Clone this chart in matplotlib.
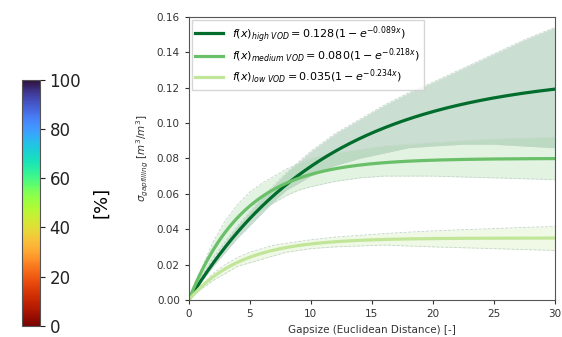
import matplotlib
matplotlib.use('Agg')
import matplotlib.pyplot as plt
import numpy as np

# Fit parameters f(x) = a(1 - exp(-b x))
labels = ['high VOD', 'medium VOD', 'low VOD']
a_fit = [0.128, 0.080, 0.035]
b_fit = [0.089, 0.218, 0.234]
colors = ['#006d2c', '#6abf69', '#c2e699']
band_colors = ['#2e7d4f', '#8fd08f', '#d4eeb8']
band_alpha = [0.25, 0.25, 0.35]

# Uncertainty band edges
band_x = [0, 1, 2, 3, 4, 5, 6, 7, 8, 9, 10, 12, 14, 16, 18, 20, 22.5, 25, 27.5, 30]
high_upper = [0, 0.012, 0.023, 0.033, 0.042, 0.050, 0.058, 0.065, 0.072, 0.078, 0.084,
	0.094, 0.102, 0.110, 0.117, 0.123, 0.131, 0.139, 0.147, 0.154]
high_lower = [0, 0.010, 0.019, 0.027, 0.035, 0.042, 0.049, 0.056, 0.062, 0.066, 0.070,
	0.076, 0.080, 0.083, 0.086, 0.087, 0.088, 0.088, 0.087, 0.086]
med_upper = [0, 0.017, 0.033, 0.045, 0.054, 0.061, 0.066, 0.070, 0.074, 0.077, 0.080,
	0.083, 0.085, 0.087, 0.088, 0.089, 0.090, 0.091, 0.0915, 0.092]
med_lower = [0, 0.013, 0.024, 0.033, 0.040, 0.046, 0.051, 0.055, 0.059, 0.062, 0.064,
	0.067, 0.069, 0.070, 0.070, 0.070, 0.0695, 0.069, 0.0685, 0.068]
low_upper = [0, 0.008, 0.015, 0.020, 0.024, 0.027, 0.029, 0.031, 0.032, 0.033, 0.034,
	0.0355, 0.0365, 0.0375, 0.0383, 0.039, 0.0397, 0.0403, 0.041, 0.0415]
low_lower = [0, 0.006, 0.011, 0.015, 0.019, 0.021, 0.023, 0.025, 0.027, 0.028, 0.029,
	0.030, 0.0305, 0.031, 0.0305, 0.030, 0.0295, 0.029, 0.0285, 0.028]
uppers = [high_upper, med_upper, low_upper]
lowers = [high_lower, med_lower, low_lower]

x = np.linspace(0, 30, 300)

fig = plt.figure(figsize=(5.62, 3.37), dpi=100)
ax = fig.add_axes([0.336, 0.110, 0.651, 0.840])

for i in range(3):
	ax.fill_between(band_x, lowers[i], uppers[i], color=band_colors[i], alpha=band_alpha[i], linewidth=0)
	ax.plot(band_x, uppers[i], color='#c4d6ca', linestyle='--', linewidth=0.6)
	ax.plot(band_x, lowers[i], color='#c4d6ca', linestyle='--', linewidth=0.6)

names = ['high\\ VOD', 'medium\\ VOD', 'low\\ VOD']
for i in range(3):
	lab = r'$f(x)_{%s} = %.3f(1-e^{-%.3fx})$' % (names[i], a_fit[i], b_fit[i])
	ax.plot(x, a_fit[i] * (1 - np.exp(-b_fit[i] * x)), color=colors[i], linewidth=2.3, label=lab)

ax.set_xlim(0, 30)
ax.set_ylim(0, 0.16)
ax.set_xticks([0, 5, 10, 15, 20, 25, 30])
ax.set_yticks(np.arange(0, 0.161, 0.02))
ax.yaxis.set_major_formatter(matplotlib.ticker.FormatStrFormatter('%.2f'))
ax.tick_params(labelsize=7.5, colors='#333333', length=3)
for s in ax.spines.values():
	s.set_color('#555555')
ax.set_xlabel('Gapsize (Euclidean Distance) [-]', fontsize=7.5, color='#333333')
ax.set_ylabel(r'$\sigma_{gapfilling}\ [m^3/m^3]$', fontsize=7.5, color='#333333')
ax.legend(loc='upper left', fontsize=8, frameon=True, fancybox=False, edgecolor='#cccccc',
	handlelength=2.5, borderaxespad=0.3, labelspacing=0.25, borderpad=0.3)

# Colorbar
cax = fig.add_axes([0.039, 0.033, 0.032, 0.730])
norm = matplotlib.colors.Normalize(vmin=0, vmax=100)
cb = matplotlib.colorbar.ColorbarBase(cax, cmap=plt.get_cmap('turbo_r'), norm=norm, ticks=[0, 20, 40, 60, 80, 100])
cb.ax.tick_params(labelsize=12, colors='#222222')
cb.set_label('[%]', fontsize=13, labelpad=8)
cb.outline.set_edgecolor('#555555')

fig.savefig('out.png', dpi=100)
